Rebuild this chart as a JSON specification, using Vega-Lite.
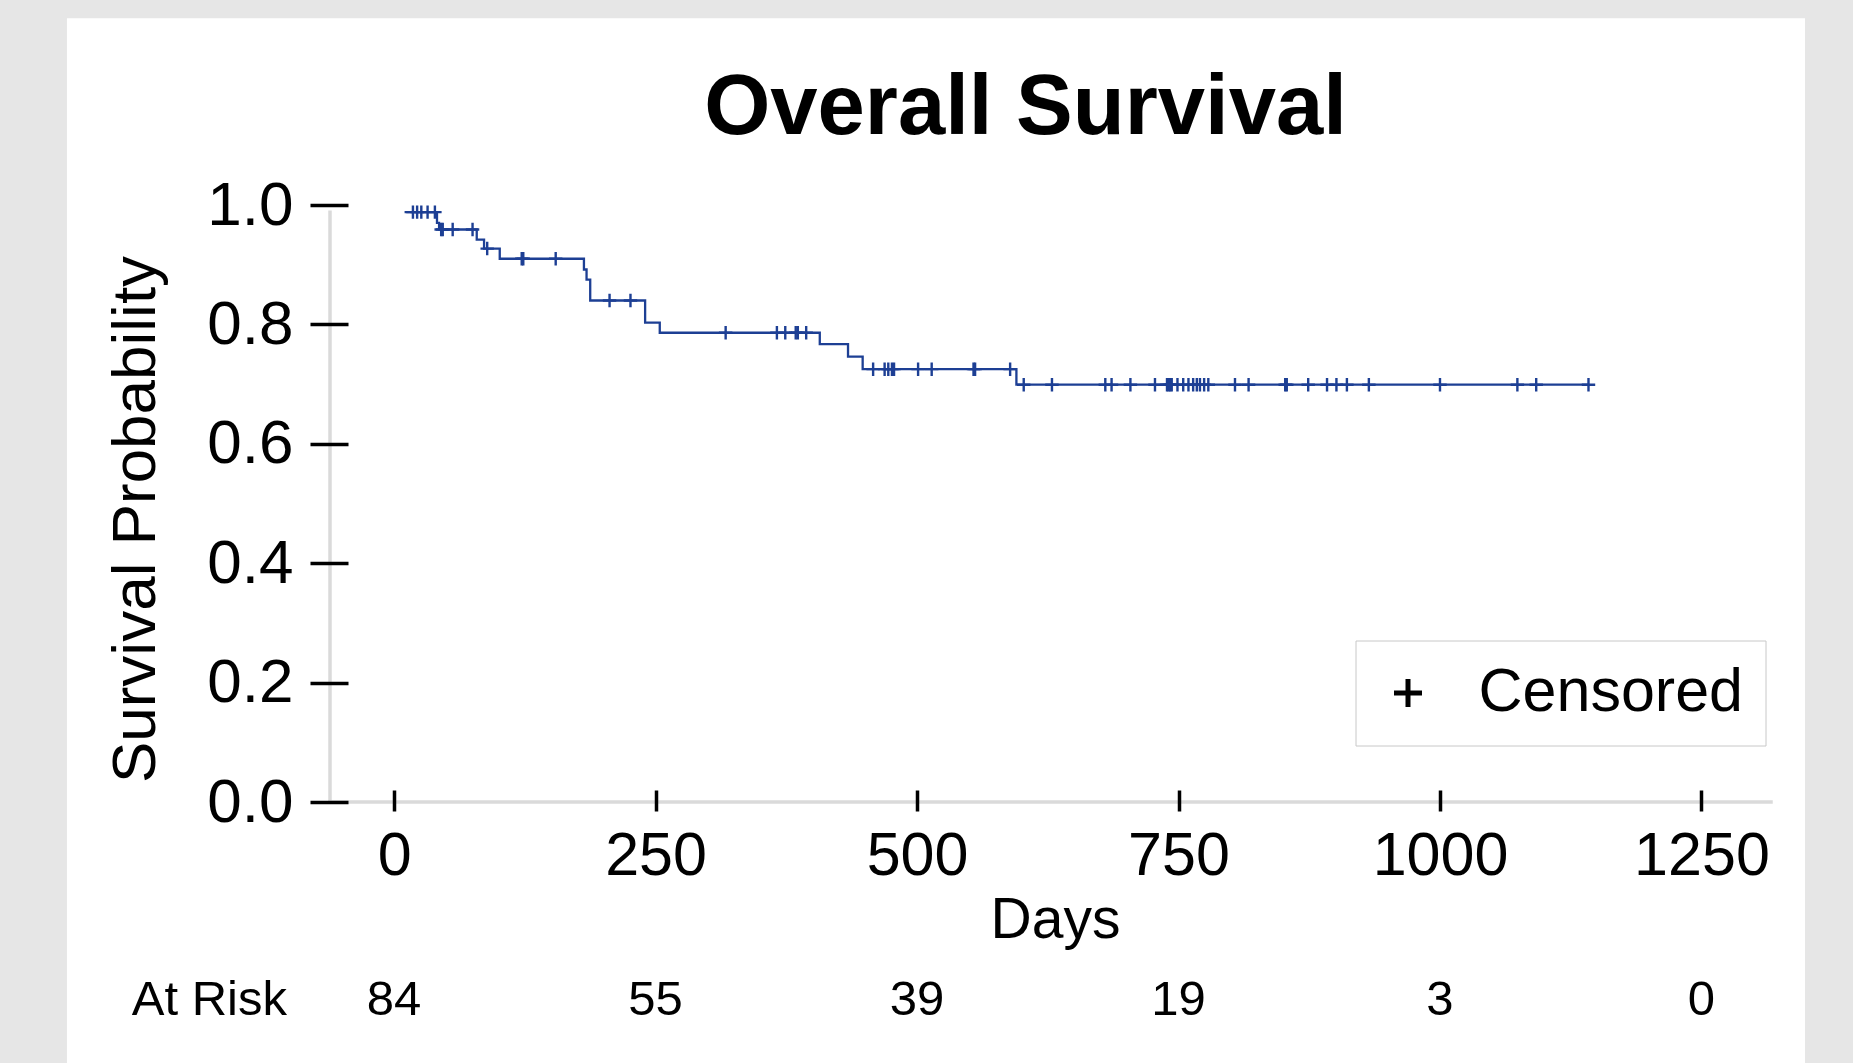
{
  "$schema": "https://vega.github.io/schema/vega-lite/v6.json",
  "width": 1441,
  "height": 597,
  "autosize": {"type": "none"},
  "padding": {"left": 330, "top": 205, "right": 82, "bottom": 261},
  "background": "#e6e6e6",
  "title": {
    "text": "Overall Survival",
    "font": "Liberation Sans",
    "fontSize": 85,
    "fontWeight": "bold",
    "color": "black",
    "anchor": "middle",
    "frame": "group",
    "dx": -25,
    "offset": -133.5,
    "zindex": 1
  },
  "datasets": {
    "km": [
      {"day": 10, "surv": 0.988, "status": "Event"},
      {"day": 18, "surv": 0.988, "status": "Censored"},
      {"day": 22, "surv": 0.988, "status": "Censored"},
      {"day": 26, "surv": 0.988, "status": "Censored"},
      {"day": 32, "surv": 0.988, "status": "Censored"},
      {"day": 39, "surv": 0.988, "status": "Censored"},
      {"day": 41, "surv": 0.970, "status": "Event"},
      {"day": 43, "surv": 0.959, "status": "Event"},
      {"day": 45, "surv": 0.959, "status": "Censored"},
      {"day": 46.5, "surv": 0.959, "status": "Censored"},
      {"day": 56, "surv": 0.959, "status": "Censored"},
      {"day": 75, "surv": 0.959, "status": "Censored"},
      {"day": 79, "surv": 0.942, "status": "Event"},
      {"day": 86, "surv": 0.927, "status": "Event"},
      {"day": 89, "surv": 0.927, "status": "Censored"},
      {"day": 101, "surv": 0.910, "status": "Event"},
      {"day": 122, "surv": 0.910, "status": "Censored"},
      {"day": 123.5, "surv": 0.910, "status": "Censored"},
      {"day": 154.5, "surv": 0.910, "status": "Censored"},
      {"day": 181.5, "surv": 0.892, "status": "Event"},
      {"day": 184, "surv": 0.875, "status": "Event"},
      {"day": 187.5, "surv": 0.840, "status": "Event"},
      {"day": 206, "surv": 0.840, "status": "Censored"},
      {"day": 226, "surv": 0.840, "status": "Censored"},
      {"day": 240, "surv": 0.803, "status": "Event"},
      {"day": 254, "surv": 0.786, "status": "Event"},
      {"day": 317, "surv": 0.786, "status": "Censored"},
      {"day": 366, "surv": 0.786, "status": "Censored"},
      {"day": 374, "surv": 0.786, "status": "Censored"},
      {"day": 384, "surv": 0.786, "status": "Censored"},
      {"day": 386, "surv": 0.786, "status": "Censored"},
      {"day": 394, "surv": 0.786, "status": "Censored"},
      {"day": 407, "surv": 0.767, "status": "Event"},
      {"day": 434, "surv": 0.746, "status": "Event"},
      {"day": 448, "surv": 0.725, "status": "Event"},
      {"day": 458, "surv": 0.725, "status": "Censored"},
      {"day": 469, "surv": 0.725, "status": "Censored"},
      {"day": 472.5, "surv": 0.725, "status": "Censored"},
      {"day": 476, "surv": 0.725, "status": "Censored"},
      {"day": 478, "surv": 0.725, "status": "Censored"},
      {"day": 501, "surv": 0.725, "status": "Censored"},
      {"day": 514, "surv": 0.725, "status": "Censored"},
      {"day": 554, "surv": 0.725, "status": "Censored"},
      {"day": 555.5, "surv": 0.725, "status": "Censored"},
      {"day": 589, "surv": 0.725, "status": "Censored"},
      {"day": 595, "surv": 0.699, "status": "Event"},
      {"day": 602, "surv": 0.699, "status": "Censored"},
      {"day": 629, "surv": 0.699, "status": "Censored"},
      {"day": 680, "surv": 0.699, "status": "Censored"},
      {"day": 686, "surv": 0.699, "status": "Censored"},
      {"day": 704, "surv": 0.699, "status": "Censored"},
      {"day": 727.5, "surv": 0.699, "status": "Censored"},
      {"day": 739, "surv": 0.699, "status": "Censored"},
      {"day": 740.5, "surv": 0.699, "status": "Censored"},
      {"day": 742, "surv": 0.699, "status": "Censored"},
      {"day": 743.5, "surv": 0.699, "status": "Censored"},
      {"day": 749, "surv": 0.699, "status": "Censored"},
      {"day": 754.5, "surv": 0.699, "status": "Censored"},
      {"day": 759.5, "surv": 0.699, "status": "Censored"},
      {"day": 764, "surv": 0.699, "status": "Censored"},
      {"day": 767.5, "surv": 0.699, "status": "Censored"},
      {"day": 770.5, "surv": 0.699, "status": "Censored"},
      {"day": 774.5, "surv": 0.699, "status": "Censored"},
      {"day": 778.5, "surv": 0.699, "status": "Censored"},
      {"day": 804, "surv": 0.699, "status": "Censored"},
      {"day": 817, "surv": 0.699, "status": "Censored"},
      {"day": 852, "surv": 0.699, "status": "Censored"},
      {"day": 853.5, "surv": 0.699, "status": "Censored"},
      {"day": 874, "surv": 0.699, "status": "Censored"},
      {"day": 892, "surv": 0.699, "status": "Censored"},
      {"day": 901, "surv": 0.699, "status": "Censored"},
      {"day": 911, "surv": 0.699, "status": "Censored"},
      {"day": 932, "surv": 0.699, "status": "Censored"},
      {"day": 1000, "surv": 0.699, "status": "Censored"},
      {"day": 1074, "surv": 0.699, "status": "Censored"},
      {"day": 1092, "surv": 0.699, "status": "Censored"},
      {"day": 1142, "surv": 0.699, "status": "Censored"}
    ],
    "risk": [
      {"day": 0, "n": 84},
      {"day": 250, "n": 55},
      {"day": 500, "n": 39},
      {"day": 750, "n": 19},
      {"day": 1000, "n": 3},
      {"day": 1250, "n": 0}
    ]
  },
  "layer": [
    {
      "data": {"values": [{}]},
      "mark": {"type": "rect", "fill": "white"},
      "encoding": {
        "x": {"datum": -312.8, "type": "quantitative", "scale": {"domain": [-61.3, 1316.5], "nice": false, "zero": false}},
        "x2": {"datum": 1349},
        "y": {"datum": 1.313, "type": "quantitative", "scale": {"domain": [0, 1], "nice": false, "zero": false}},
        "y2": {"datum": -0.46}
      }
    },
    {
      "data": {"values": [{}]},
      "mark": {"type": "rule", "color": "#dadada", "strokeWidth": 3.5, "strokeCap": "square"},
      "encoding": {
        "x": {"datum": -61.3, "type": "quantitative", "scale": {"domain": [-61.3, 1316.5], "nice": false, "zero": false}},
        "y": {"datum": 0, "type": "quantitative", "scale": {"domain": [0, 1], "nice": false, "zero": false}},
        "y2": {"datum": 0.988}
      }
    },
    {
      "data": {"values": [{}]},
      "mark": {"type": "rule", "color": "#dadada", "strokeWidth": 3.5, "strokeCap": "square"},
      "encoding": {
        "x": {"datum": -61.3, "type": "quantitative", "scale": {"domain": [-61.3, 1316.5], "nice": false, "zero": false}},
        "x2": {"datum": 1316.5},
        "y": {"datum": 0, "type": "quantitative", "scale": {"domain": [0, 1], "nice": false, "zero": false}}
      }
    },
    {
      "data": {"name": "km"},
      "mark": {"type": "line", "interpolate": "step-after", "color": "#1d3f94", "strokeWidth": 2.3},
      "encoding": {
        "x": {
          "field": "day", "type": "quantitative",
          "scale": {"domain": [-61.3, 1316.5], "nice": false, "zero": false},
          "axis": {
            "values": [0, 250, 500, 750, 1000, 1250],
            "format": "d",
            "title": "Days",
            "offset": -12,
            "domain": false,
            "grid": false,
            "tickColor": "black",
            "tickSize": 21,
            "tickWidth": 3.5,
            "labelFont": "Liberation Sans",
            "labelFontSize": 61,
            "labelColor": "black",
            "labelPadding": 15,
            "labelFlush": false,
            "labelOverlap": false,
            "titleFont": "Liberation Sans",
            "titleFontSize": 57,
            "titleFontWeight": "normal",
            "titleColor": "black",
            "titleBaseline": "alphabetic",
            "titleAlign": "center",
            "titleX": 725,
            "titleY": 147,
            "zindex": 1
          }
        },
        "y": {
          "field": "surv", "type": "quantitative",
          "scale": {"domain": [0, 1], "nice": false, "zero": false},
          "axis": {
            "values": [0, 0.2, 0.4, 0.6, 0.8, 1],
            "format": ".1f",
            "title": "Survival Probability",
            "offset": -18,
            "domain": false,
            "grid": false,
            "tickColor": "black",
            "tickSize": 38,
            "tickWidth": 3.5,
            "labelFont": "Liberation Sans",
            "labelFontSize": 62,
            "labelColor": "black",
            "labelPadding": 17,
            "labelOverlap": false,
            "titleFont": "Liberation Sans",
            "titleFontSize": 62,
            "titleFontWeight": "normal",
            "titleColor": "black",
            "titleAngle": 270,
            "titleBaseline": "alphabetic",
            "titleAlign": "center",
            "titleX": -194,
            "titleY": 314,
            "titleLimit": 2000,
            "zindex": 1
          }
        }
      }
    },
    {
      "data": {"name": "km"},
      "transform": [{"filter": "datum.status === 'Censored'"}],
      "mark": {"type": "point", "filled": false, "size": 180, "strokeWidth": 2.4, "color": "#1d3f94", "opacity": 1},
      "encoding": {
        "x": {"field": "day", "type": "quantitative", "scale": {"domain": [-61.3, 1316.5], "nice": false, "zero": false}},
        "y": {"field": "surv", "type": "quantitative", "scale": {"domain": [0, 1], "nice": false, "zero": false}},
        "shape": {
          "field": "status", "type": "nominal",
          "scale": {"range": ["M-1,0H1M0,-1V1"]},
          "legend": {
            "title": null,
            "orient": "none",
            "legendX": 1025.5,
            "legendY": 435.5,
            "zindex": 1,
            "padding": 22,
            "fillColor": "white",
            "strokeColor": "#c8c8c8",
            "labelFont": "Liberation Sans",
            "labelFontSize": 61,
            "labelColor": "black",
            "labelLimit": 600,
            "labelOffset": 40,
            "symbolOffset": 0,
            "symbolSize": 784,
            "symbolStrokeWidth": 5,
            "symbolStrokeColor": "black",
            "encode": {
              "legend": {"update": {"strokeWidth": {"value": 2}}},
              "symbols": {"update": {"stroke": {"value": "black"}, "strokeWidth": {"value": 5}, "size": {"value": 784}, "fill": {"value": "transparent"}, "opacity": {"value": 1}}},
              "labels": {"update": {"dy": {"value": 17}}}
            }
          }
        }
      }
    },
    {
      "data": {"name": "risk"},
      "mark": {"type": "text", "align": "center", "baseline": "alphabetic", "font": "Liberation Sans", "fontSize": 49, "color": "black"},
      "encoding": {
        "x": {"field": "day", "type": "quantitative", "scale": {"domain": [-61.3, 1316.5], "nice": false, "zero": false}},
        "y": {"datum": -0.357, "type": "quantitative", "scale": {"domain": [0, 1], "nice": false, "zero": false}},
        "text": {"field": "n", "type": "quantitative"}
      }
    },
    {
      "data": {"values": [{"label": "At Risk"}]},
      "mark": {"type": "text", "align": "right", "baseline": "alphabetic", "font": "Liberation Sans", "fontSize": 49, "color": "black"},
      "encoding": {
        "x": {"datum": -102.4, "type": "quantitative", "scale": {"domain": [-61.3, 1316.5], "nice": false, "zero": false}},
        "y": {"datum": -0.357, "type": "quantitative", "scale": {"domain": [0, 1], "nice": false, "zero": false}},
        "text": {"field": "label", "type": "nominal"}
      }
    }
  ],
  "config": {
    "view": {"stroke": null},
    "font": "Liberation Sans"
  }
}
